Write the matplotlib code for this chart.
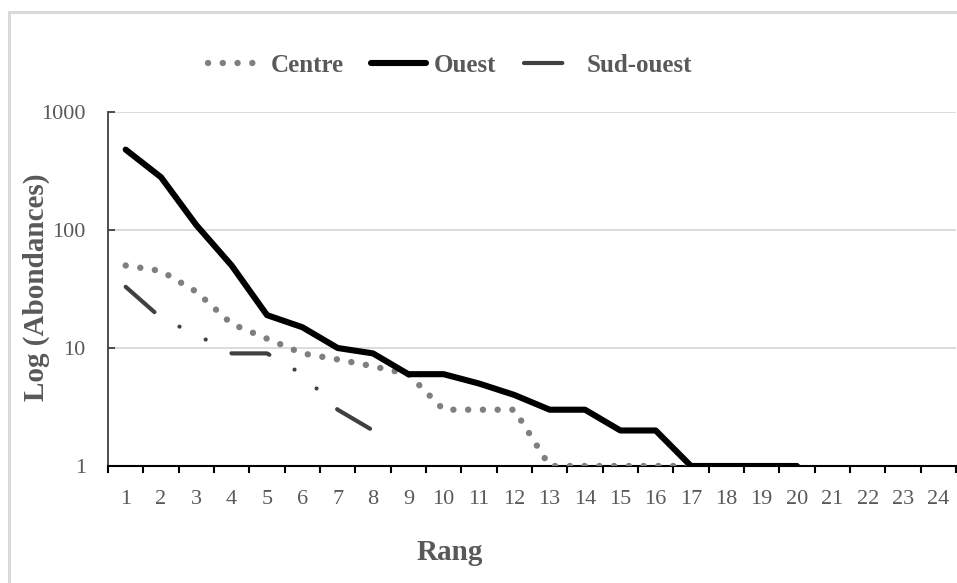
import matplotlib
matplotlib.use('Agg')
import matplotlib.pyplot as plt
import matplotlib.patches as mpatches
import matplotlib.ticker as mticker


# rank-abundance values per zone
rangs = list(range(1, 25))
centre = [50, 45, 30, 16, 12, 9, 8, 7, 6, 3, 3, 3, 1, 1, 1, 1, 1]
ouest = [480, 280, 110, 50, 19, 15, 10, 9, 6, 6, 5, 4, 3, 3, 2, 2, 1, 1, 1, 1]
sud_ouest = [33, 18, 13, 9, 9, 6, 3, 2]
y_ticks = [1, 10, 100, 1000]

TEXT_GREY = '#595959'
SERIF = ['Liberation Serif', 'DejaVu Serif']

plt.rcParams['font.family'] = SERIF

fig = plt.figure(figsize=(9.57, 5.83), dpi=100)
ax = fig.add_axes([108 / 957, 1 - 466 / 583, 848 / 957, 354 / 583])

# chart area frame
frame = mpatches.Rectangle((9 / 957, -0.1), 1.2, 1 - 12 / 583 + 0.1,
                           transform=fig.transFigure, fill=False,
                           edgecolor='#d9d9d9', linewidth=2.2, clip_on=False)
fig.patches.append(frame)

ax.plot(rangs[:len(centre)], centre, color='#7f7f7f', linewidth=4.6,
        linestyle=(0, (0.01, 2.3)), dash_capstyle='round', label='Centre',
        zorder=3)
ax.plot(rangs[:len(ouest)], ouest, color='black', linewidth=4.4,
        solid_capstyle='round', solid_joinstyle='round', label='Ouest',
        zorder=4)
# long dash - dot - dot
ax.plot(rangs[:len(sud_ouest)], sud_ouest, color='#404040', linewidth=3.0,
        linestyle=(0, (9.2, 7, 0.01, 7, 0.01, 7)),
        dash_capstyle='round', label='Sud-ouest', zorder=3)

ax.set_yscale('log')
ax.set_ylim(1, 1000)
ax.set_xlim(0.5, 24.5)
ax.yaxis.set_major_locator(mticker.FixedLocator(y_ticks))
ax.yaxis.set_major_formatter(mticker.FixedFormatter([str(v) for v in y_ticks]))
ax.yaxis.set_minor_locator(mticker.NullLocator())
ax.set_xticks(rangs)
ax.set_xticklabels([str(r) for r in rangs])
ax.set_xticks([r - 0.5 for r in rangs] + [24.5], minor=True)

ax.grid(axis='y', which='major', color='#d9d9d9', linewidth=1.3, zorder=0)
ax.set_axisbelow(True)

for side in ('top', 'right'):
    ax.spines[side].set_visible(False)
ax.spines['left'].set_color('#404040')
ax.spines['left'].set_linewidth(1.3)
ax.spines['bottom'].set_color('black')
ax.spines['bottom'].set_linewidth(1.5)

ax.tick_params(axis='x', which='major', length=0, pad=17,
               labelsize=16, labelcolor=TEXT_GREY)
ax.tick_params(axis='x', which='minor', length=5, width=1.5,
               direction='out', color='black')
ax.tick_params(axis='y', which='major', length=5, width=1.3,
               direction='in', color='#404040', pad=16,
               labelsize=16, labelcolor=TEXT_GREY)

fig.text(36 / 957, 1 - 287 / 583, 'Log (Abondances)', rotation=90,
         ha='center', va='center', fontsize=21, fontweight='bold',
         color=TEXT_GREY)
fig.text(450 / 957, 1 - 553 / 583, 'Rang', ha='center', va='center',
         fontsize=21, fontweight='bold', color=TEXT_GREY)

leg = ax.legend(loc='center', bbox_to_anchor=(450 / 957, 1 - 65 / 583),
                bbox_transform=fig.transFigure, ncol=3, frameon=False,
                handlelength=2.2, handletextpad=0.3, columnspacing=1.1,
                prop={'family': SERIF, 'weight': 'bold', 'size': 18})
for text in leg.get_texts():
    text.set_color(TEXT_GREY)

fig.savefig('out.png', dpi=100)
